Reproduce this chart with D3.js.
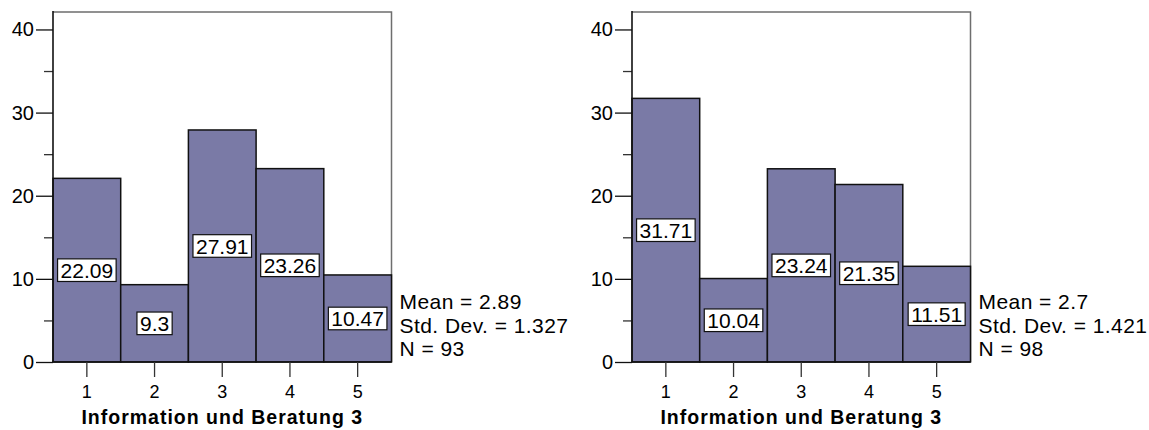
<!DOCTYPE html>
<html>
<head>
<meta charset="utf-8">
<script src="https://cdn.jsdelivr.net/npm/d3@7"></script>
<style>
  html, body { margin: 0; padding: 0; background: #fff; }
  svg { display: block; font-family: "Liberation Sans", Arial, sans-serif; }
</style>
</head>
<body>
<svg id="chart" width="1149" height="430"></svg>
<script>
// ---- data ----
const categories = ["1", "2", "3", "4", "5"];
const valuesA = [22.09, 9.3, 27.91, 23.26, 10.47];
const valuesB = [31.71, 10.04, 23.24, 21.35, 11.51];
const statsA = ["Mean = 2.89", "Std. Dev. = 1.327", "N = 93"];
const statsB = ["Mean = 2.7", "Std. Dev. = 1.421", "N = 98"];
const yMajorTicks = [0, 10, 20, 30, 40];
const yMinorTicks = [5, 15, 25, 35];
const xTitle = "Information und Beratung 3";

// ---- layout ----
const svg = d3.select("#chart");
const plotTop = 12, plotBottom = 362, panelW = 338.5;
const panels = [
  { left: 53, values: valuesA, stats: statsA },
  { left: 632, values: valuesB, stats: statsB }
];
const barFill = "#7a7aa6";

panels.forEach(p => {
  const g = svg.append("g").attr("transform", `translate(${p.left},0)`);
  const x = d3.scaleBand().domain(categories).range([0, panelW]).padding(0);
  const y = d3.scaleLinear().domain([0, 42.1]).range([plotBottom, plotTop]);

  // frame (top & right)
  g.append("path")
    .attr("d", `M0,${plotTop}H${panelW}V${plotBottom}`)
    .attr("fill", "none").attr("stroke", "#6e6e6e").attr("stroke-width", 1.5);

  // bars
  g.selectAll("rect.bar").data(p.values).enter().append("rect")
    .attr("class", "bar")
    .attr("x", (d, i) => x(categories[i]))
    .attr("width", x.bandwidth())
    .attr("y", d => y(d))
    .attr("height", d => y(0) - y(d))
    .attr("fill", barFill).attr("stroke", "#111").attr("stroke-width", 1.5);

  // value labels (boxed) at mid-height
  const lab = g.selectAll("g.lab").data(p.values).enter().append("g").attr("class", "lab")
    .attr("transform", (d, i) => `translate(${x(categories[i]) + x.bandwidth() / 2},${y(d / 2)})`);
  const rects = lab.append("rect").attr("fill", "#fff").attr("stroke", "#111").attr("stroke-width", 1.2);
  const texts = lab.append("text")
    .attr("text-anchor", "middle").attr("dy", "0.36em")
    .attr("font-size", 21).attr("fill", "#000")
    .text(d => String(d));
  texts.each(function (d, i) {
    const w = this.getComputedTextLength();
    d3.select(rects.nodes()[i])
      .attr("x", -w / 2 - 3).attr("width", w + 6)
      .attr("y", -11.3).attr("height", 22.6);
  });

  // y axis: major ticks
  const yAxis = g.append("g")
    .call(d3.axisLeft(y).tickValues(yMajorTicks).tickSize(17).tickPadding(2).tickFormat(d3.format("d")));
  yAxis.select(".domain").remove();
  yAxis.selectAll("line").attr("stroke", "#111").attr("stroke-width", 1.3);
  yAxis.selectAll("text").attr("font-size", 20).attr("font-family", "Liberation Sans, Arial, sans-serif").attr("fill", "#000");
  // minor ticks
  const yMinor = g.append("g")
    .call(d3.axisLeft(y).tickValues(yMinorTicks).tickSize(9).tickFormat(""));
  yMinor.select(".domain").remove();
  yMinor.selectAll("line").attr("stroke", "#333").attr("stroke-width", 1.3);
  // axis line
  g.append("line").attr("x1", 0).attr("x2", 0).attr("y1", plotTop - 1).attr("y2", plotBottom)
    .attr("stroke", "#111").attr("stroke-width", 1.6);
  // baseline
  g.append("line").attr("x1", 0).attr("x2", panelW).attr("y1", plotBottom).attr("y2", plotBottom)
    .attr("stroke", "#111").attr("stroke-width", 1.5);

  // x axis
  const xAxis = g.append("g").attr("transform", `translate(0,${plotBottom})`)
    .call(d3.axisBottom(x).tickSize(15).tickPadding(8));
  xAxis.select(".domain").remove();
  xAxis.selectAll("line").attr("stroke", "#333").attr("stroke-width", 1.3);
  xAxis.selectAll("text").attr("font-size", 18).attr("font-family", "Liberation Sans, Arial, sans-serif").attr("fill", "#000");

  // x title
  g.append("text")
    .attr("x", panelW / 2).attr("y", 424)
    .attr("text-anchor", "middle").attr("font-size", 19.5).attr("font-weight", "bold")
    .attr("letter-spacing", 1).attr("fill", "#000")
    .text(xTitle);

  // stats
  g.append("text")
    .attr("x", panelW + 8).attr("y", 309)
    .attr("font-size", 21).attr("letter-spacing", 0.45).attr("fill", "#000")
    .selectAll("tspan").data(p.stats).enter().append("tspan")
    .attr("x", panelW + 8).attr("dy", (d, i) => i === 0 ? 0 : 23.5)
    .text(d => d);
});
</script>
</body>
</html>
